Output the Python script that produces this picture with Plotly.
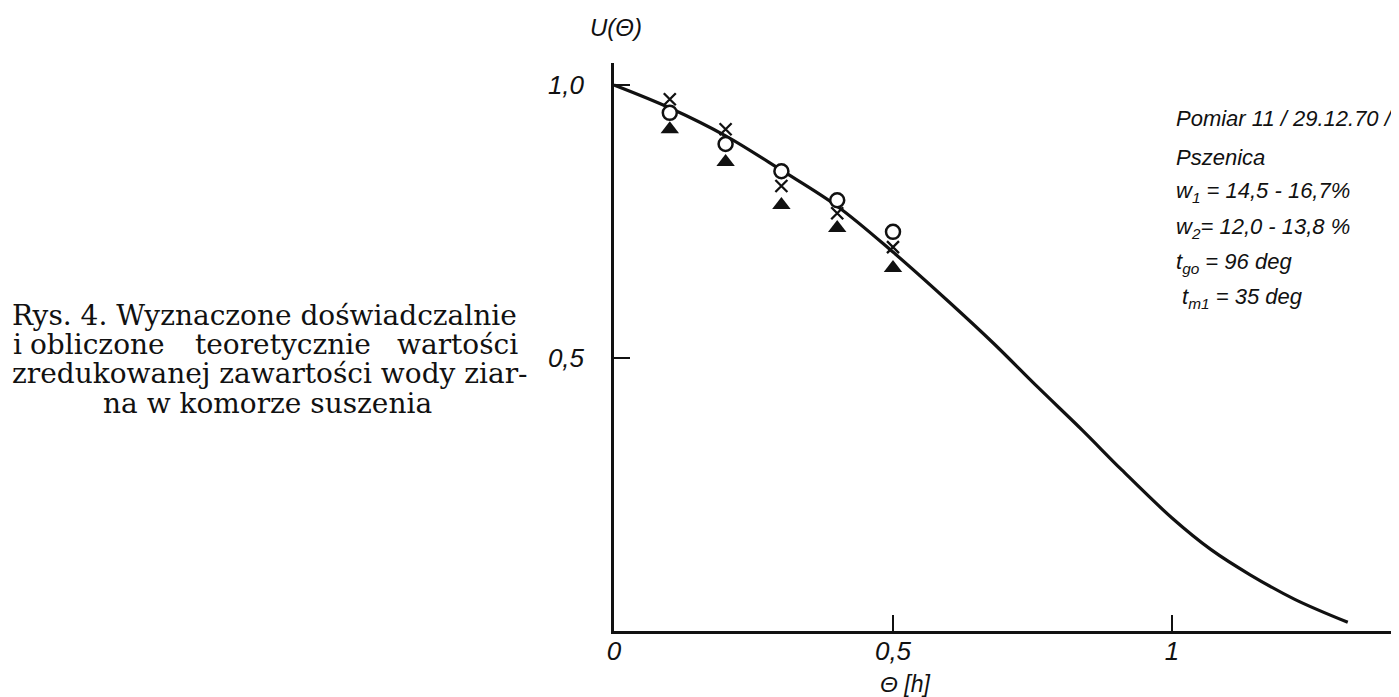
import plotly.graph_objects as go

# ---- data ----
curve_theta = [0.0, 0.1, 0.2, 0.3, 0.4, 0.5, 0.6, 0.68, 0.76, 0.84, 0.91, 1.0, 1.07, 1.14, 1.22, 1.315]
curve_u = [1.0, 0.958, 0.907, 0.844, 0.778, 0.694, 0.603, 0.527, 0.446, 0.367, 0.295, 0.207, 0.149, 0.103, 0.058, 0.016]

meas_theta = [0.1, 0.2, 0.3, 0.4, 0.5]
u_cross = [0.974, 0.919, 0.815, 0.765, 0.703]
u_circle = [0.949, 0.892, 0.842, 0.789, 0.731]
u_triangle = [0.919, 0.859, 0.780, 0.738, 0.665]

x_tickvals = [0, 0.5, 1]
x_ticktext = ["0", "0,5", "1"]
y_tickvals = [0.5, 1.0]
y_ticktext = ["0,5", "1,0"]

caption_lines = [
    "Rys. 4. Wyznaczone doświadczalnie",
    "i obliczone teoretycznie wartości",
    "zredukowanej zawartości wody ziar-",
    "na w komorze suszenia",
]
info_lines = [
    "Pomiar 11 / 29.12.70 /",
    "Pszenica",
    "w<sub>1</sub> = 14,5 - 16,7%",
    "w<sub>2</sub>= 12,0 - 13,8 %",
    "t<sub>go</sub> = 96 deg",
    " t<sub>m1</sub> = 35 deg",
]
x_title = "Θ [h]"
y_title = "U(Θ)"

# ---- layout geometry ----
# The page body has an 8px default margin, so the figure is drawn 8px
# right/down of the window origin; page coordinates are converted below.
OFF = 8
W, H = 1399 - OFF, 697 - OFF
ML, MR, MT, MB = 614 - OFF, 0, 63 - OFF, 697 - OFF - (631 - OFF)
PW, PH = W - ML - MR, H - MT - MB
X_PX_PER_UNIT = 558.0
Y_PX_PER_UNIT = 546.0

def px(xp):
    """page pixel x -> paper coordinate"""
    return (xp - OFF - ML) / PW

def py(yp):
    """page pixel y -> paper coordinate"""
    return (H - MB - (yp - OFF)) / PH

SANS = "Liberation Sans, Arial, sans-serif"
SERIF = "DejaVu Serif, serif"
INK = "#111111"

fig = go.Figure()
fig.add_trace(go.Scatter(x=curve_theta, y=curve_u, mode="lines",
                         line=dict(color=INK, width=3.2, shape="spline", smoothing=1.0),
                         hoverinfo="skip"))
fig.add_trace(go.Scatter(x=meas_theta, y=u_cross, mode="markers",
                         marker=dict(symbol="x-thin-open", size=12, color=INK,
                                     line=dict(color=INK, width=2.3))))
fig.add_trace(go.Scatter(x=meas_theta, y=u_circle, mode="markers",
                         marker=dict(symbol="circle", size=14, color="white",
                                     line=dict(color=INK, width=2.5))))
fig.add_trace(go.Scatter(x=meas_theta, y=u_triangle, mode="markers",
                         marker=dict(symbol="triangle-up", size=16, color=INK,
                                     line=dict(color=INK, width=0))))

tickfont = dict(family=SANS, size=26, color=INK, style="italic")
fig.update_xaxes(range=[0, PW / X_PX_PER_UNIT], showline=True, linecolor=INK, linewidth=2.5,
                 showgrid=False, zeroline=False, ticks="inside", ticklen=16, tickwidth=2,
                 tickcolor=INK, tickvals=x_tickvals, ticktext=x_ticktext,
                 tickfont=tickfont, ticklabelstandoff=-5)
fig.update_yaxes(range=[0, PH / Y_PX_PER_UNIT], showline=True, linecolor=INK, linewidth=2.5,
                 showgrid=False, zeroline=False, ticks="inside", ticklen=16, tickwidth=2,
                 tickcolor=INK, tickvals=y_tickvals, ticktext=y_ticktext,
                 tickfont=tickfont, ticklabelstandoff=22)

annotations = []
serif_font = dict(family=SERIF, size=28, color=INK)
# caption (justified block)
annotations.append(dict(x=px(10), y=py(315), text=caption_lines[0], xanchor="left", yanchor="middle", font=serif_font))
words2 = caption_lines[1].split(" ")
word_pos = [(11, "left"), (28, "left"), (193, "left"), (520, "right")]
for w, (xp, anc) in zip(words2, word_pos):
    annotations.append(dict(x=px(xp), y=py(344), text=w, xanchor=anc, yanchor="middle", font=serif_font))
annotations.append(dict(x=px(10), y=py(373), text=caption_lines[2], xanchor="left", yanchor="middle", font=serif_font))
annotations.append(dict(x=px(267), y=py(403), text=caption_lines[3], xanchor="center", yanchor="middle", font=serif_font))

# info block
info_font = dict(family=SANS, size=22, color=INK, style="italic")
info_y = [118, 157, 192, 228, 263, 298]
for t, yp in zip(info_lines, info_y):
    annotations.append(dict(x=px(1174), y=py(yp), text=t, xanchor="left", yanchor="middle", font=info_font))

# axis titles
annotations.append(dict(x=px(616), y=py(28), text=y_title, xanchor="center", yanchor="middle",
                        font=dict(family=SANS, size=24, color=INK, style="italic")))
annotations.append(dict(x=px(905), y=py(684), text=x_title, xanchor="center", yanchor="middle",
                        font=dict(family=SANS, size=23, color=INK, style="italic")))

for a in annotations:
    a.update(xref="paper", yref="paper", showarrow=False)

fig.update_layout(width=W, height=H, margin=dict(l=ML, r=MR, t=MT, b=MB, pad=0),
                  plot_bgcolor="white", paper_bgcolor="white", showlegend=False,
                  annotations=annotations)

fig.write_html("out.html")
